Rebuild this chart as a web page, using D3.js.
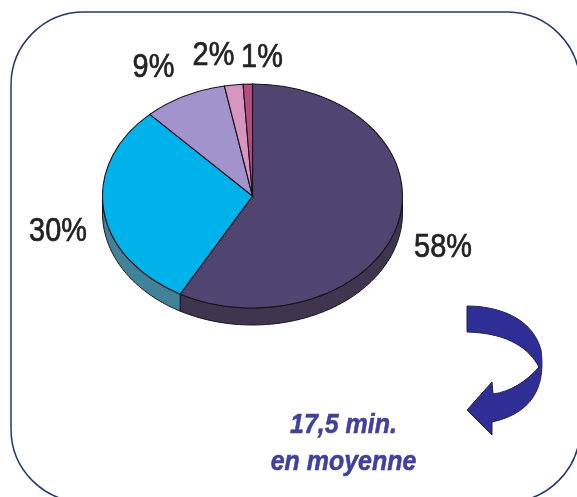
<!DOCTYPE html>
<html>
<head>
<meta charset="utf-8">
<script src="https://cdn.jsdelivr.net/npm/d3@7"></script>
<style>
html, body { margin: 0; padding: 0; background: #fff; }
svg { display: block; }
text { font-family: "Liberation Sans", Arial, sans-serif; }
</style>
</head>
<body>
<svg id="chart"></svg>
<script>
const width = 577;
const height = 497;

// share of each slice, clockwise from the top
const categories = ["a", "b", "c", "d", "e"];
const values = [58, 30, 9, 2, 1];
const labels = ["58%", "30%", "9%", "2%", "1%"];
const topColors = ["#4f4570", "#00b2ea", "#a393cc", "#d896be", "#b5507f"];
const sideColors = ["#40364f", "#3f8298", "#6f6490", "#96688a", "#7a3a5a"];
const noteLines = ["17,5 min.", "en moyenne"];

const cx = 252.5, cy = 196;
const rx = 150, ry = 112, depth = 17;

const svg = d3.select("#chart")
    .attr("width", width)
    .attr("height", height);

const defs = svg.append("defs");
defs.append("filter").attr("id", "soft")
    .append("feGaussianBlur").attr("stdDeviation", 0.6);

// rounded frame, runs off the right and bottom edges
svg.append("rect")
    .attr("x", 11)
    .attr("y", 12)
    .attr("width", 569)
    .attr("height", 490)
    .attr("rx", 73)
    .attr("ry", 73)
    .attr("fill", "none")
    .attr("stroke", "#1f3a6b")
    .attr("stroke-width", 1.5);

const pieGen = d3.pie().sort(null).value(d => d);
const arcs = pieGen(values);

// flatten the circle into the ellipse of the tilted pie
const scaleY = d3.scaleLinear().domain([0, rx]).range([0, ry]);
const px = a => rx * Math.sin(a);
const py = a => -scaleY(rx * Math.cos(a));

const g = svg.append("g")
    .attr("transform", `translate(${cx},${cy})`)
    .attr("filter", "url(#soft)");

const line = d3.line();

// side wall, only the part facing the viewer
arcs.forEach((d, i) => {
    const a0 = Math.max(d.startAngle, Math.PI / 2);
    const a1 = Math.min(d.endAngle, Math.PI * 1.5);
    if (a1 <= a0) return;
    const steps = d3.range(0, 61).map(k => a0 + (a1 - a0) * k / 60);
    const upper = steps.map(a => [px(a), py(a)]);
    const lower = steps.slice().reverse().map(a => [px(a), py(a) + depth]);
    g.append("path")
        .attr("d", line(upper.concat(lower)) + "Z")
        .attr("fill", sideColors[i])
        .attr("stroke", "#15121c")
        .attr("stroke-width", 1);
});

// top face
const arc = d3.arc().innerRadius(0).outerRadius(rx);
g.append("g")
    .attr("transform", `scale(1,${ry / rx})`)
    .selectAll("path")
    .data(arcs)
    .join("path")
    .attr("d", arc)
    .attr("fill", (d, i) => topColors[i])
    .attr("stroke", "#15121c")
    .attr("stroke-width", 1.1)
    .attr("vector-effect", "non-scaling-stroke");

// percent labels
const labelX = [443, 58, 153.5, 213.5, 262];
const labelY = [257, 241, 77, 65, 67];
svg.append("g")
    .attr("filter", "url(#soft)")
    .selectAll("text")
    .data(labels)
    .join("text")
    .attr("text-anchor", "middle")
    .attr("transform", (d, i) => `translate(${labelX[i]},${labelY[i]}) scale(0.85,1)`)
    .attr("font-size", 34)
    .attr("fill", "#222")
    .attr("stroke", "#222")
    .attr("stroke-width", 0.7)
    .text(d => d);

// curved arrow
const arrowD = "M467,306 C495,306 532,316 541,350 C545,380 538,412 492,422 L492,435 L467,410 L492,382 L493,394 C510,392 527,381 539,367 C530,350 510,333 467,332 Z";
svg.append("path")
    .attr("d", arrowD)
    .attr("fill", "#2f2f96")
    .attr("stroke", "#20204a")
    .attr("stroke-width", 1)
    .attr("filter", "url(#soft)");

// note
const noteY = [433, 470];
svg.append("g")
    .attr("filter", "url(#soft)")
    .selectAll("text")
    .data(noteLines)
    .join("text")
    .attr("text-anchor", "middle")
    .attr("transform", (d, i) => `translate(343.5,${noteY[i]}) scale(0.96,1.08)`)
    .attr("font-size", 26)
    .attr("font-weight", "bold")
    .attr("font-style", "italic")
    .attr("fill", "#3f3f9e")
    .attr("stroke", "#3f3f9e")
    .attr("stroke-width", 0.5)
    .text(d => d);
</script>
</body>
</html>
